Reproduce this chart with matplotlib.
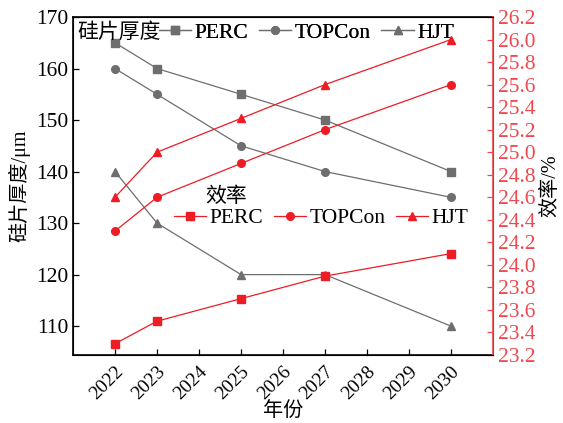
import matplotlib.pyplot as plt

plt.rcParams['font.family'] = ['Liberation Serif', 'Noto Sans CJK SC']

years = [2022, 2023, 2025, 2027, 2030]
series = ['PERC', 'TOPCon', 'HJT']
thickness_perc = [165, 160, 155, 150, 140]
thickness_topcon = [160, 155, 145, 140, 135]
thickness_hjt = [140, 130, 120, 120, 110]
eff_perc = [23.3, 23.5, 23.7, 23.9, 24.1]
eff_topcon = [24.3, 24.6, 24.9, 25.2, 25.6]
eff_hjt = [24.6, 25.0, 25.3, 25.6, 26.0]
xticks = list(range(2022, 2031))

gray = '#6e6e6e'
red = '#ee1c24'
red_axis = '#f0484e'
markers = ['s', 'o', '^']


def main():
    fig = plt.figure(figsize=(5.63, 4.23), dpi=100)
    ax = fig.add_axes([0.1297, 0.1608, 0.746, 0.799])
    ax2 = ax.twinx()

    gray_handles = []
    for vals, m in zip([thickness_perc, thickness_topcon, thickness_hjt], markers):
        h, = ax.plot(years, vals, color=gray, lw=0.9, marker=m, markersize=5.5,
                     markerfacecolor=gray, markeredgecolor=gray)
        gray_handles.append(h)

    red_handles = []
    for vals, m in zip([eff_perc, eff_topcon, eff_hjt], markers):
        h, = ax2.plot(years, vals, color=red, lw=0.9, marker=m, markersize=5.5,
                      markerfacecolor=red, markeredgecolor=red)
        red_handles.append(h)

    ax.set_xlim(2021, 2031)
    ax.set_ylim(104.4, 170)
    ax.set_yticks([110, 120, 130, 140, 150, 160, 170])
    ax.set_xticks(xticks)
    ax.set_xticklabels([str(y) for y in xticks], rotation=45, ha='right',
                       rotation_mode='anchor', fontsize=14)
    ax.tick_params(axis='both', direction='in', length=4, width=0.9)
    ax.tick_params(axis='y', labelsize=15.5)
    ax.tick_params(axis='x', pad=6)

    ax2.set_ylim(23.2, 26.2)
    ax2.set_yticks([23.2 + 0.2 * i for i in range(16)])
    ax2.set_yticklabels([f'{23.2 + 0.2 * i:.1f}' for i in range(16)])
    ax2.tick_params(axis='y', direction='in', length=4, width=0.9,
                    colors=red_axis, labelsize=15.5, labelcolor=red_axis)
    ax2.spines['right'].set_color(red_axis)
    ax2.spines['right'].set_linewidth(1.2)
    for s in ['left', 'top', 'bottom']:
        ax.spines[s].set_linewidth(1.2)

    ax.set_xlabel('年份', fontsize=14.5, labelpad=-1)
    ax.set_ylabel('硅片厚度/μm', fontsize=14.5, labelpad=4)
    ax2.set_ylabel('效率/%', fontsize=14.5, labelpad=4)

    ax.text(0.01, 0.953, '硅片厚度', transform=ax.transAxes, fontsize=15,
            va='center', ha='left')
    leg1 = ax.legend(gray_handles, series, loc='center left',
                     bbox_to_anchor=(0.205, 0.953), ncol=3, frameon=False,
                     fontsize=15.5, handlelength=1.5, handletextpad=0.15,
                     columnspacing=0.5, borderpad=0, borderaxespad=0)
    ax.add_artist(leg1)

    ax2.text(0.315, 0.467, '效率', transform=ax.transAxes, fontsize=15,
             va='center', ha='left')
    ax2.legend(red_handles, series, loc='center left',
               bbox_to_anchor=(0.24, 0.405), ncol=3, frameon=False,
               fontsize=15.5, handlelength=1.5, handletextpad=0.15,
               columnspacing=0.5, borderpad=0, borderaxespad=0)

    fig.savefig('out.png', dpi=100)


if __name__ == '__main__':
    main()
